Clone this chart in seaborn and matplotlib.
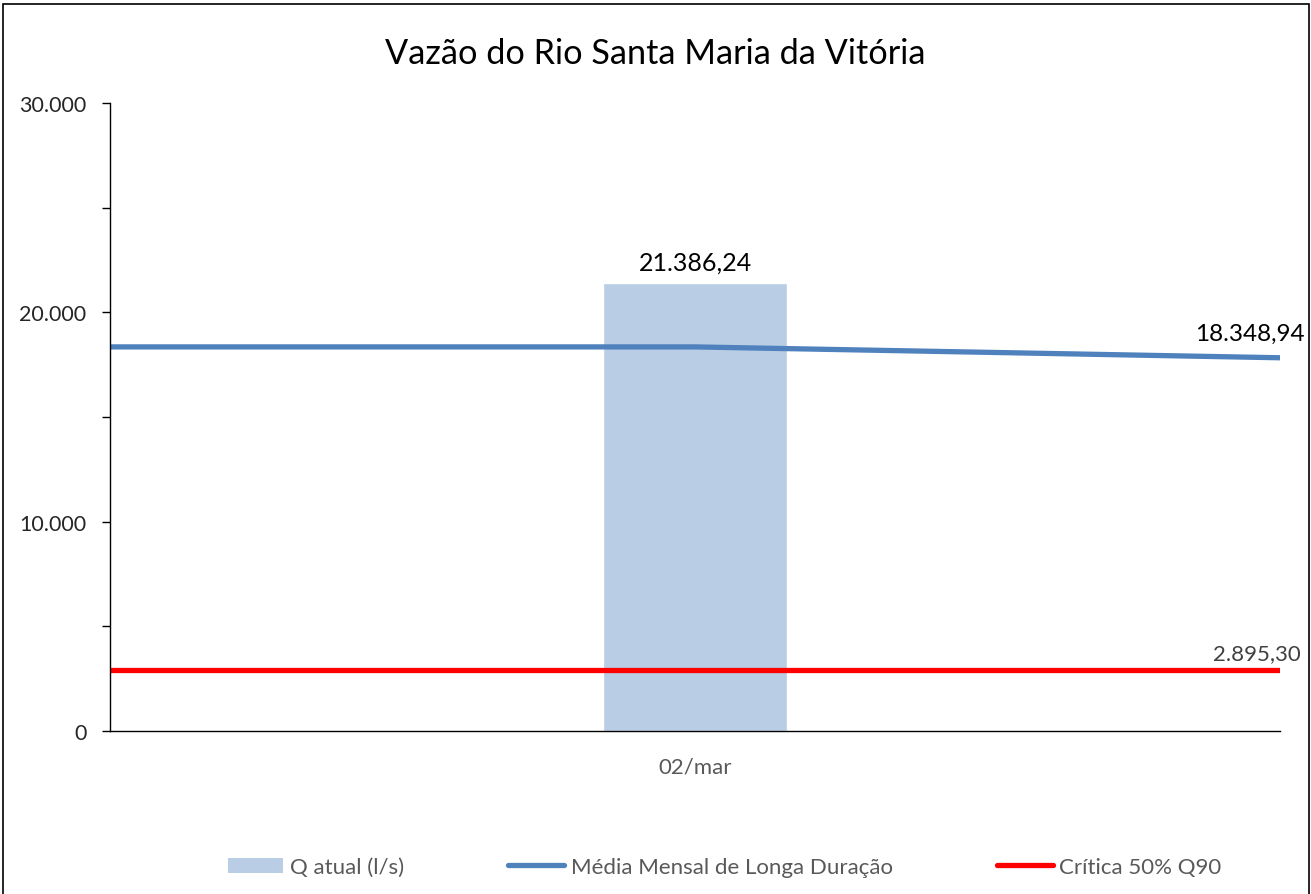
import pandas as pd
import matplotlib
matplotlib.use('Agg')
import matplotlib.pyplot as plt
from matplotlib.patches import Rectangle, Patch
from matplotlib.lines import Line2D
from matplotlib.ticker import FuncFormatter, MultipleLocator
import seaborn as sns

# Data
title = 'Vazão do Rio Santa Maria da Vitória'
category = '02/mar'
q_atual = [21386.24]
media_x = [-0.5, 0.0, 0.5]
media_vals = [18348.94, 18348.94, 17830.0]
critica_x = [-0.5, 0.5]
critica_vals = [2895.30, 2895.30]
series_names = ['Q atual (l/s)', 'Média Mensal de Longa Duração', 'Crítica 50% Q90']


def br(v, dec=2):
    s = f'{v:,.{dec}f}'
    return s.replace(',', 'X').replace('.', ',').replace('X', '.')


sns.set_style('white')
plt.rcParams['font.family'] = ['Lato', 'DejaVu Sans']

bar_df = pd.DataFrame({'x': [0.0], 'y': q_atual})
media_df = pd.DataFrame({'x': media_x, 'y': media_vals})
critica_df = pd.DataFrame({'x': critica_x, 'y': critica_vals})

fig = plt.figure(figsize=(13.11, 8.95), dpi=100)
ax = fig.add_axes([0.0839, 0.1821, 0.8925, 0.7017])

sns.barplot(data=bar_df, x='x', y='y', native_scale=True, width=0.157,
            color='#B9CDE5', saturation=1, ax=ax)
sns.lineplot(data=media_df, x='x', y='y', color='#4F81BD', linewidth=3.8, ax=ax)
sns.lineplot(data=critica_df, x='x', y='y', color='#FF0000', linewidth=3.8, ax=ax)

ax.set_xlim(-0.5, 0.5)
ax.set_ylim(0, 30000)
ax.set_xlabel('')
ax.set_ylabel('')
ax.set_xticks([0])
ax.set_xticklabels([category], fontsize=16, color='#595959')
ax.tick_params(axis='x', length=0, pad=18)
ax.yaxis.set_major_locator(MultipleLocator(10000))
ax.yaxis.set_minor_locator(MultipleLocator(5000))
ax.yaxis.set_major_formatter(FuncFormatter(lambda v, p: br(v, 0)))
ax.tick_params(axis='y', which='both', direction='out', length=6, width=1,
               color='black', left=True, labelsize=15.5, pad=11)
sns.despine(ax=ax)
for s in ['left', 'bottom']:
    ax.spines[s].set_color('black')
    ax.spines[s].set_linewidth(1)

# data labels
ax.annotate(br(q_atual[0]), (0, q_atual[0]), xytext=(0, 7), textcoords='offset points',
            ha='center', va='bottom', fontsize=18, color='black')
ax.annotate(br(media_vals[0]), (media_x[-1], media_vals[-1]), xytext=(18, 10),
            textcoords='offset points', ha='right', va='bottom', fontsize=17.5, color='black')
ax.annotate(br(critica_vals[0]), (critica_x[-1], critica_vals[-1]), xytext=(15, 5),
            textcoords='offset points', ha='right', va='bottom', fontsize=16, color='#404040')

fig.suptitle(title, x=0.5, y=0.922, va='bottom', fontsize=24.7, color='black')

handles = [Patch(facecolor='#B9CDE5', edgecolor='none'),
           Line2D([], [], color='#4F81BD', linewidth=3.8),
           Line2D([], [], color='#FF0000', linewidth=3.8)]
fig.legend(handles, series_names, loc='center', bbox_to_anchor=(0.5527, 0.03),
           ncol=3, frameon=False, fontsize=16, labelcolor='#595959',
           handlelength=2.5, handletextpad=0.3, columnspacing=4.7)

fig.patches.append(Rectangle((3 / 1311, -0.01), 1306 / 1311, 1.01 - 5 / 895,
                             transform=fig.transFigure, fill=False,
                             edgecolor='black', linewidth=1.2))

fig.savefig('out.png', dpi=100)
